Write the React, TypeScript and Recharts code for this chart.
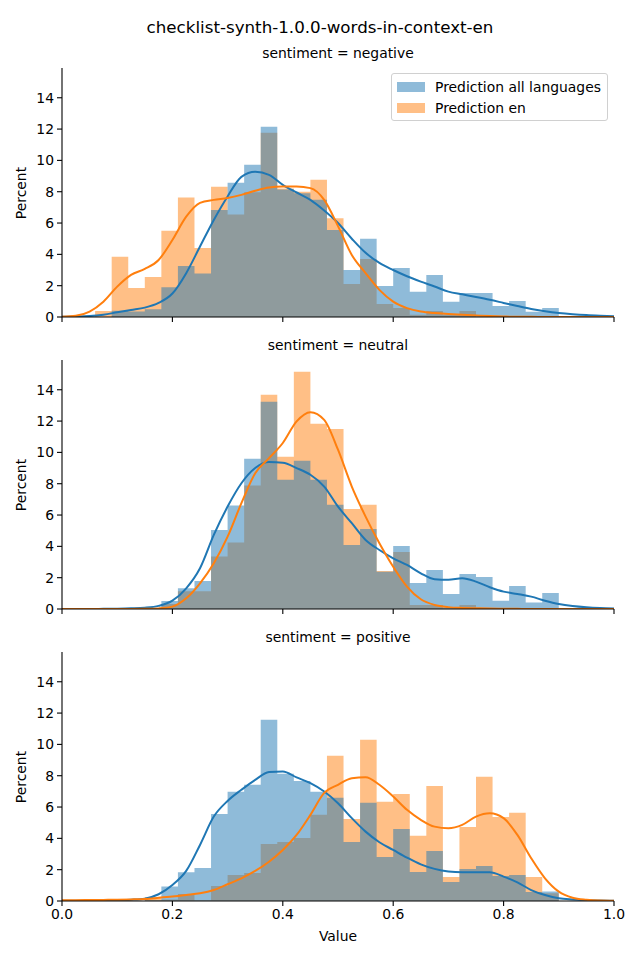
import React from "react";
import { ComposedChart, Area, Line, XAxis, YAxis } from "recharts";

const BLUE = "#1f77b4";
const ORANGE = "#ff7f0e";
const FONT = "'DejaVu Sans', sans-serif";

// histogram bin edges (bin width 0.03)
const binEdges = [
  0, 0.03, 0.06, 0.09, 0.12, 0.15, 0.18, 0.21, 0.24, 0.27, 0.3, 0.33, 0.36, 0.39, 0.42, 0.45,
  0.48, 0.51, 0.54, 0.57, 0.6, 0.63, 0.66, 0.69, 0.72, 0.75, 0.78, 0.81, 0.84, 0.87, 0.9, 0.93,
];

// kde sample positions
const kdeX = [
  0, 0.025, 0.05, 0.075, 0.1, 0.125, 0.15, 0.175, 0.2, 0.225, 0.25, 0.275, 0.3, 0.325, 0.35, 0.375,
  0.4, 0.425, 0.45, 0.475, 0.5, 0.525, 0.55, 0.575, 0.6, 0.625, 0.65, 0.675, 0.7, 0.725, 0.75,
  0.775, 0.8, 0.825, 0.85, 0.875, 0.9, 0.925, 0.95, 0.975, 1,
];

const xTicks = [0, 0.2, 0.4, 0.6, 0.8, 1];
const yTicks = [0, 2, 4, 6, 8, 10, 12, 14];

// sentiment = negative
const negAllHist = [
  0, 0, 0, 0.4, 0.35, 0.5, 1.9, 3.26, 2.77, 6.84, 8.57, 9.72, 12.15, 8.14, 7.9, 7.48,
  5.56, 3.0, 4.99, 1.98, 3.13, 1.62, 2.68, 0.98, 1.53, 1.53, 0.7, 1.02, 0.34, 0.57, 0,
];
const negEnHist = [
  0, 0, 0.38, 3.84, 1.85, 2.56, 5.5, 7.63, 4.41, 8.31, 6.54, 7.97, 11.76, 8.2, 8.0, 8.76,
  6.31, 2.1, 3.7, 0.83, 0.57, 0.15, 0.38, 0.15, 0.38, 0, 0, 0, 0, 0, 0,
];
const negAllKde = [
  0.02, 0.03, 0.06, 0.15, 0.3, 0.45, 0.6, 0.9, 1.5, 2.8, 4.5, 6.2, 7.7, 8.95, 9.27, 9.08,
  8.44, 7.95, 7.48, 6.8, 6.0, 5.0, 4.1, 3.45, 3.0, 2.6, 2.26, 1.95, 1.62, 1.45, 1.28,
  1.1, 0.9, 0.7, 0.51, 0.37, 0.26, 0.18, 0.12, 0.08, 0.05,
];
const negEnKde = [
  0.02, 0.08, 0.35, 0.98, 1.94, 2.69, 3.07, 3.64, 4.92, 6.41, 7.29, 7.48, 7.6, 7.8, 8.06, 8.27,
  8.33, 8.33, 8.23, 7.48, 5.8, 3.96, 2.8, 1.73, 0.98, 0.57, 0.35, 0.25, 0.19, 0.14, 0.1,
  0.06, 0.03, 0.01, 0.01, 0, 0, 0, 0, 0, 0,
];

// sentiment = neutral
const neuAllHist = [
  0, 0, 0, 0, 0, 0, 0.51, 1.32, 1.79, 5.05, 6.61, 9.59, 13.23, 8.25, 9.46, 8.25,
  6.65, 4.09, 5.11, 2.38, 4.03, 1.66, 2.49, 0.96, 2.24, 2.05, 0.53, 1.47, 0.41, 1.02, 0,
];
const neuEnHist = [
  0, 0, 0, 0, 0, 0, 0.32, 1.13, 1.13, 3.35, 4.24, 7.89, 13.68, 9.72, 15.15, 11.83,
  11.5, 6.39, 6.65, 2.43, 3.64, 0.26, 0.26, 0.05, 0.26, 0, 0, 0, 0, 0, 0,
];
const neuAllKde = [
  0, 0, 0, 0.01, 0.02, 0.04, 0.08, 0.2, 0.53, 1.32, 2.6, 4.73, 6.54, 8.03, 9.0, 9.38,
  9.34, 9.0, 8.57, 7.82, 6.54, 5.48, 4.41, 3.77, 3.24, 2.81, 2.28, 1.9, 1.86, 1.96, 1.75,
  1.39, 1.11, 0.96, 0.79, 0.53, 0.32, 0.19, 0.11, 0.06, 0.03,
];
const neuEnKde = [
  0, 0, 0, 0, 0, 0, 0.01, 0.04, 0.15, 0.68, 1.64, 2.92, 4.62, 6.76, 8.67, 9.63,
  10.6, 11.98, 12.57, 12.08, 10.17, 7.82, 5.9, 4.2, 2.7, 1.43, 0.62, 0.26, 0.12, 0.07, 0.05,
  0.03, 0.02, 0.01, 0, 0, 0, 0, 0, 0, 0,
];

// sentiment = positive
const posAllHist = [
  0, 0, 0, 0, 0, 0.05, 0.92, 1.83, 2.11, 5.56, 6.97, 7.42, 11.57, 8.12, 7.67, 6.97,
  6.59, 3.77, 6.27, 2.81, 4.6, 1.85, 3.2, 1.21, 2.05, 2.24, 1.6, 1.66, 0.58, 0.6, 0,
];
const posEnHist = [
  0, 0, 0, 0, 0, 0.25, 0.1, 0.45, 0.05, 0.96, 1.66, 1.79, 3.64, 3.77, 4.03, 5.5,
  9.27, 5.24, 10.29, 6.33, 6.84, 4.16, 7.35, 1.53, 4.73, 7.93, 5.37, 5.63, 1.53, 0.5, 0,
];
const posAllKde = [
  0.01, 0.01, 0.02, 0.03, 0.05, 0.08, 0.15, 0.43, 1.02, 1.92, 3.58, 5.39, 6.39, 7.1, 7.74, 8.23,
  8.27, 7.89, 7.52, 6.99, 6.24, 5.29, 4.43, 3.75, 3.26, 2.77, 2.34, 2.05, 1.88, 1.83, 1.83,
  1.83, 1.56, 1.19, 0.7, 0.38, 0.17, 0.1, 0.06, 0.03, 0.02,
];
const posEnKde = [
  0.05, 0.05, 0.06, 0.07, 0.08, 0.1, 0.13, 0.2, 0.28, 0.38, 0.49, 0.7, 1.07, 1.45, 1.92, 2.51,
  3.26, 4.22, 5.5, 6.9, 7.42, 7.84, 7.9, 7.42, 6.67, 5.82, 5.18, 4.75, 4.65, 4.86, 5.39,
  5.6, 5.29, 4.22, 2.73, 1.45, 0.6, 0.21, 0.08, 0.03, 0.02,
];

function buildRows(allHist: number[], enHist: number[], allKde: number[], enKde: number[]) {
  const map = new Map<string, any>();
  const get = (x: number) => {
    const k = x.toFixed(3);
    if (!map.has(k)) map.set(k, { x });
    return map.get(k);
  };
  binEdges.forEach((e, i) => {
    const r = get(e);
    r.allHist = i < allHist.length ? allHist[i] : 0;
    r.enHist = i < enHist.length ? enHist[i] : 0;
  });
  kdeX.forEach((x, i) => {
    const r = get(x);
    r.allKde = allKde[i];
    r.enKde = enKde[i];
  });
  return [...map.values()].sort((a, b) => a.x - b.x);
}

const tickStyle = { fill: "#000", fontSize: 13.9, fontFamily: FONT };

function Panel({ rows, top, showX }: { rows: any[]; top: number; showX: boolean }) {
  return (
    <div style={{ position: "absolute", left: 0, top: top - 10 }}>
      <ComposedChart width={640} height={294} data={rows} margin={{ top: 10, right: 26, bottom: 5, left: 22 }}>
        <XAxis
          dataKey="x"
          type="number"
          domain={[0, 1]}
          ticks={xTicks}
          allowDataOverflow
          height={30}
          stroke="#000"
          strokeWidth={1.1}
          tickSize={5}
          tickMargin={3}
          tick={tickStyle}
          tickFormatter={(v: number) => (showX ? v.toFixed(1) : "")}
        />
        <YAxis
          type="number"
          domain={[0, 15.9]}
          ticks={yTicks}
          allowDataOverflow
          width={40}
          stroke="#000"
          strokeWidth={1.1}
          tickSize={5}
          tickMargin={3}
          tick={tickStyle}
        />
        <Area
          type="stepAfter"
          dataKey="enHist"
          stroke="none"
          fill={ORANGE}
          fillOpacity={0.5}
          connectNulls
          dot={false}
          activeDot={false}
          isAnimationActive={false}
        />
        <Area
          type="stepAfter"
          dataKey="allHist"
          stroke="none"
          fill={BLUE}
          fillOpacity={0.5}
          connectNulls
          dot={false}
          activeDot={false}
          isAnimationActive={false}
        />
        <Line
          type="monotone"
          dataKey="allKde"
          stroke={BLUE}
          strokeWidth={2}
          dot={false}
          activeDot={false}
          connectNulls
          isAnimationActive={false}
        />
        <Line
          type="monotone"
          dataKey="enKde"
          stroke={ORANGE}
          strokeWidth={2}
          dot={false}
          activeDot={false}
          connectNulls
          isAnimationActive={false}
        />
      </ComposedChart>
    </div>
  );
}

function Txt({ x, y, size, children, rotate }: { x: number; y: number; size: number; children: any; rotate?: boolean }) {
  return (
    <div
      style={{
        position: "absolute",
        left: x,
        top: y,
        transform: `translate(-50%, -50%)${rotate ? " rotate(-90deg)" : ""}`,
        fontSize: size,
        lineHeight: 1,
        whiteSpace: "nowrap",
        fontFamily: FONT,
        color: "#000",
      }}
    >
      {children}
    </div>
  );
}

export default function App() {
  const panels = [
    { title: "sentiment = negative", rows: buildRows(negAllHist, negEnHist, negAllKde, negEnKde), top: 68 },
    { title: "sentiment = neutral", rows: buildRows(neuAllHist, neuEnHist, neuAllKde, neuEnKde), top: 360 },
    { title: "sentiment = positive", rows: buildRows(posAllHist, posEnHist, posAllKde, posEnKde), top: 652 },
  ];
  return (
    <div style={{ position: "absolute", left: 0, top: 0, width: 640, height: 960, background: "#fff", fontFamily: FONT }}>
      <Txt x={320} y={27} size={16.7}>checklist-synth-1.0.0-words-in-context-en</Txt>
      {panels.map((p, i) => (
        <React.Fragment key={p.title}>
          <Panel rows={p.rows} top={p.top} showX={i === 2} />
          <Txt x={338} y={p.top - 14} size={13.9}>{p.title}</Txt>
          <Txt x={22} y={p.top + 124.5} size={13.9} rotate>Percent</Txt>
        </React.Fragment>
      ))}
      <Txt x={338} y={937} size={13.9}>Value</Txt>
      <div
        style={{
          position: "absolute",
          left: 391,
          top: 73,
          width: 215,
          height: 46,
          border: "1px solid #d0d0d0",
          borderRadius: 3,
          background: "rgba(255,255,255,0.8)",
          fontFamily: FONT,
          fontSize: 13.9,
        }}
      >
        {[
          { label: "Prediction all languages", color: BLUE, y: 13 },
          { label: "Prediction en", color: ORANGE, y: 34 },
        ].map((e) => (
          <React.Fragment key={e.label}>
            <div style={{ position: "absolute", left: 5, top: e.y - 5, width: 28, height: 10, background: e.color, opacity: 0.5 }} />
            <div style={{ position: "absolute", left: 43, top: e.y - 8, lineHeight: "16px", whiteSpace: "nowrap" }}>{e.label}</div>
          </React.Fragment>
        ))}
      </div>
    </div>
  );
}
